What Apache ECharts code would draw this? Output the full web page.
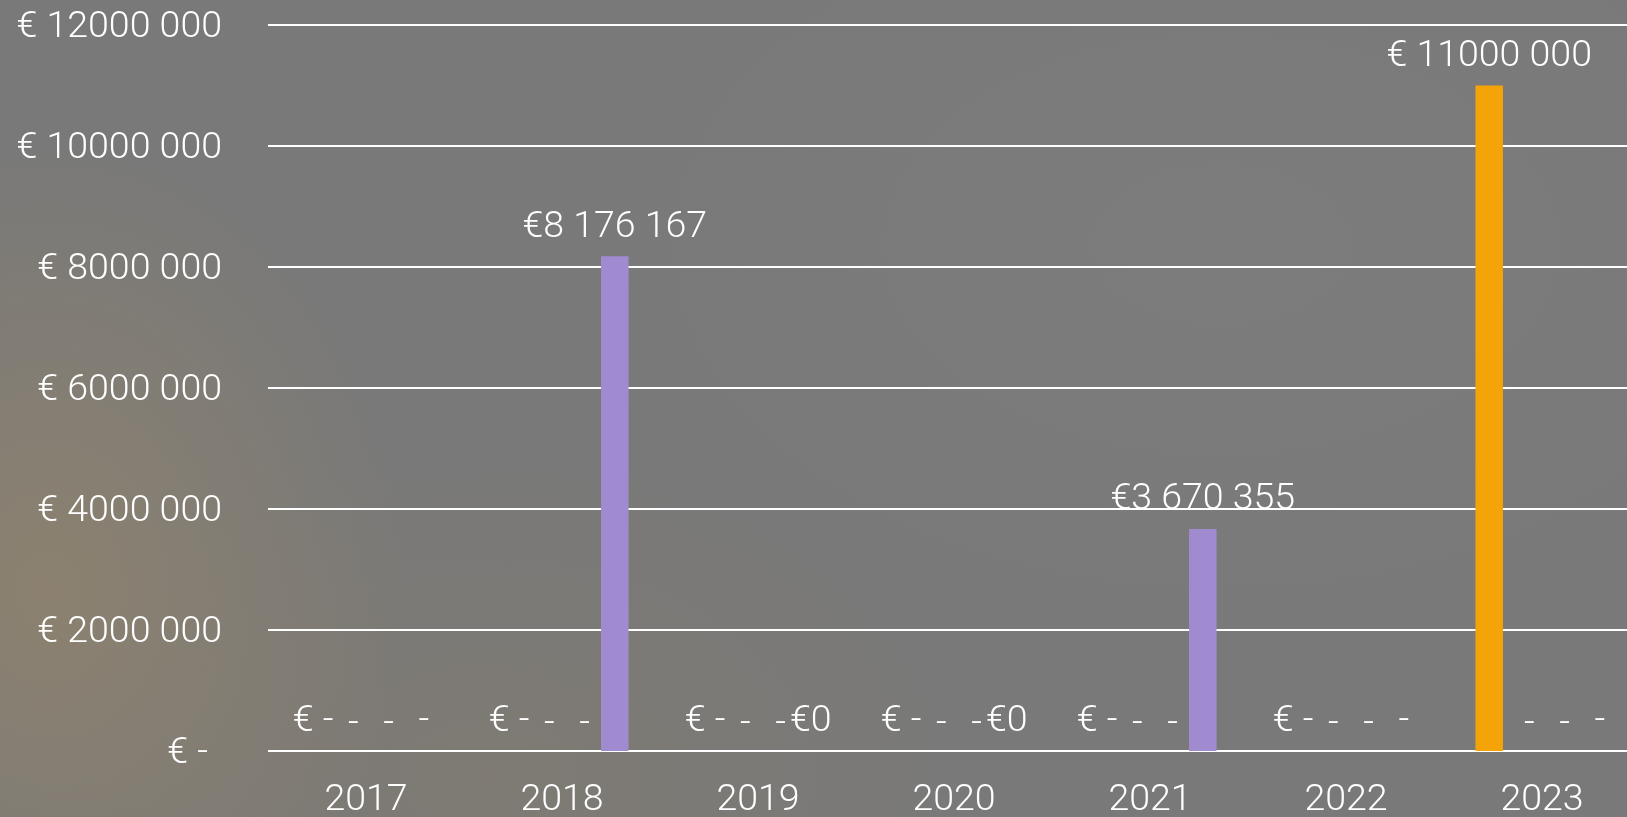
<!DOCTYPE html>
<html>
<head>
<meta charset="utf-8">
<title>Investeringen per jaar</title>
<script src="https://cdn.jsdelivr.net/npm/echarts@6/dist/echarts.min.js"></script>
<style>
  html, body {
    margin: 0;
    padding: 0;
    width: 1627px;
    height: 817px;
    overflow: hidden;
  }
  body {
    /* grijze betonachtergrond, iets bruiner linksonder */
    background:
      radial-gradient(ellipse 22% 55% at 3% 72%, rgba(146, 132, 108, 0.75), rgba(146, 132, 108, 0) 100%),
      radial-gradient(ellipse 30% 40% at 30% 95%, rgba(132, 124, 110, 0.5), rgba(132, 124, 110, 0) 100%),
      radial-gradient(ellipse 40% 50% at 75% 30%, rgba(130, 130, 130, 0.35), rgba(130, 130, 130, 0) 100%),
      #797979;
  }
  /* grafiek loopt iets voorbij de rechterrand, net als het origineel */
  #chart {
    width: 1640px;
    height: 817px;
  }
</style>
</head>
<body>
<div id="chart"></div>
<script>
// categorieen
const years = ['2017', '2018', '2019', '2020', '2021', '2022', '2023'];

// reeksen (4 per jaar)
const serie1 = [0, 0, 0, 0, 0, 0, 11000000];
const serie2 = [0, 0, 0, 0, 0, 0, 0];
const serie3 = [0, 0, 0, 0, 0, 0, 0];
const serie4 = [0, 8176167, 0, 0, 3670355, 0, 0];
// lege cellen in reeks 4 (Excel toont dan "-")
const serie4Empty = [true, false, false, false, false, true, true];

// as
const yMin = 0;
const yMax = 12000000;
const yStep = 2000000;

const FONT = 'Roboto';
const FONT_SIZE = 37.5;
const WHITE = '#ffffff';
const PURPLE = '#a18bd0';
const ORANGE = '#f4a406';

// "€ 12000 000" (alleen laatste drie cijfers gescheiden)
function euroShort(v) {
  if (!v) return '€ -';
  const k = Math.floor(v / 1000);
  const r = String(v % 1000).padStart(3, '0');
  return '€ ' + k + ' ' + r;
}

// "€8 176 167"
function euroFull(v) {
  return '€' + String(v).replace(/\B(?=(\d{3})+(?!\d))/g, ' ');
}

const textStyle = {
  color: WHITE,
  fontFamily: FONT,
  fontWeight: 300,
  fontSize: FONT_SIZE
};

const labelBase = Object.assign({
  show: true,
  position: 'top',
  distance: 10
}, textStyle);

function barSerie(name, data, color, label) {
  return {
    name,
    type: 'bar',
    data,
    barWidth: 27.5,
    barGap: '28%',
    itemStyle: { color },
    label: Object.assign({}, labelBase, label),
    z: 2
  };
}

const chart = echarts.init(document.getElementById('chart'), null, { renderer: 'canvas' });

chart.setOption({
  backgroundColor: 'transparent',
  animation: false,
  grid: {
    left: 268,
    top: 25,
    bottom: 66,
    right: 0,
    containLabel: false,
    // niet automatisch krimpen voor de labels
    outerBoundsMode: 'none'
  },
  xAxis: {
    type: 'category',
    data: years,
    axisLine: { show: false },
    axisTick: { show: false },
    axisLabel: Object.assign({ margin: 31 }, textStyle)
  },
  yAxis: {
    type: 'value',
    min: yMin,
    max: yMax,
    interval: yStep,
    axisLine: { show: false },
    axisTick: { show: false },
    splitLine: { lineStyle: { color: WHITE, width: 2 } },
    axisLabel: Object.assign({
      margin: 46,
      padding: [6, 0, 0, 0],
      // nul krijgt (zoals in Excel) wat ruimte rechts
      formatter: (v) => (v ? euroShort(v) : '{z|€ -}'),
      rich: {
        z: Object.assign({ padding: [0, 14, 0, 0] }, textStyle)
      }
    }, textStyle)
  },
  series: [
    barSerie('Reeks 1', serie1, ORANGE, {
      formatter: (p) => euroShort(p.value)
    }),
    barSerie('Reeks 2', serie2, PURPLE, {
      formatter: () => '-',
      offset: [5, 3]
    }),
    barSerie('Reeks 3', serie3, PURPLE, {
      formatter: () => '-',
      offset: [5, 3]
    }),
    barSerie('Reeks 4', serie4, PURPLE, {
      formatter: (p) => {
        if (serie4Empty[p.dataIndex]) return '{d|-}';
        return euroFull(p.value);
      },
      rich: {
        d: Object.assign({ padding: [0, 0, 0, 10] }, textStyle)
      }
    })
  ]
});
</script>
</body>
</html>
